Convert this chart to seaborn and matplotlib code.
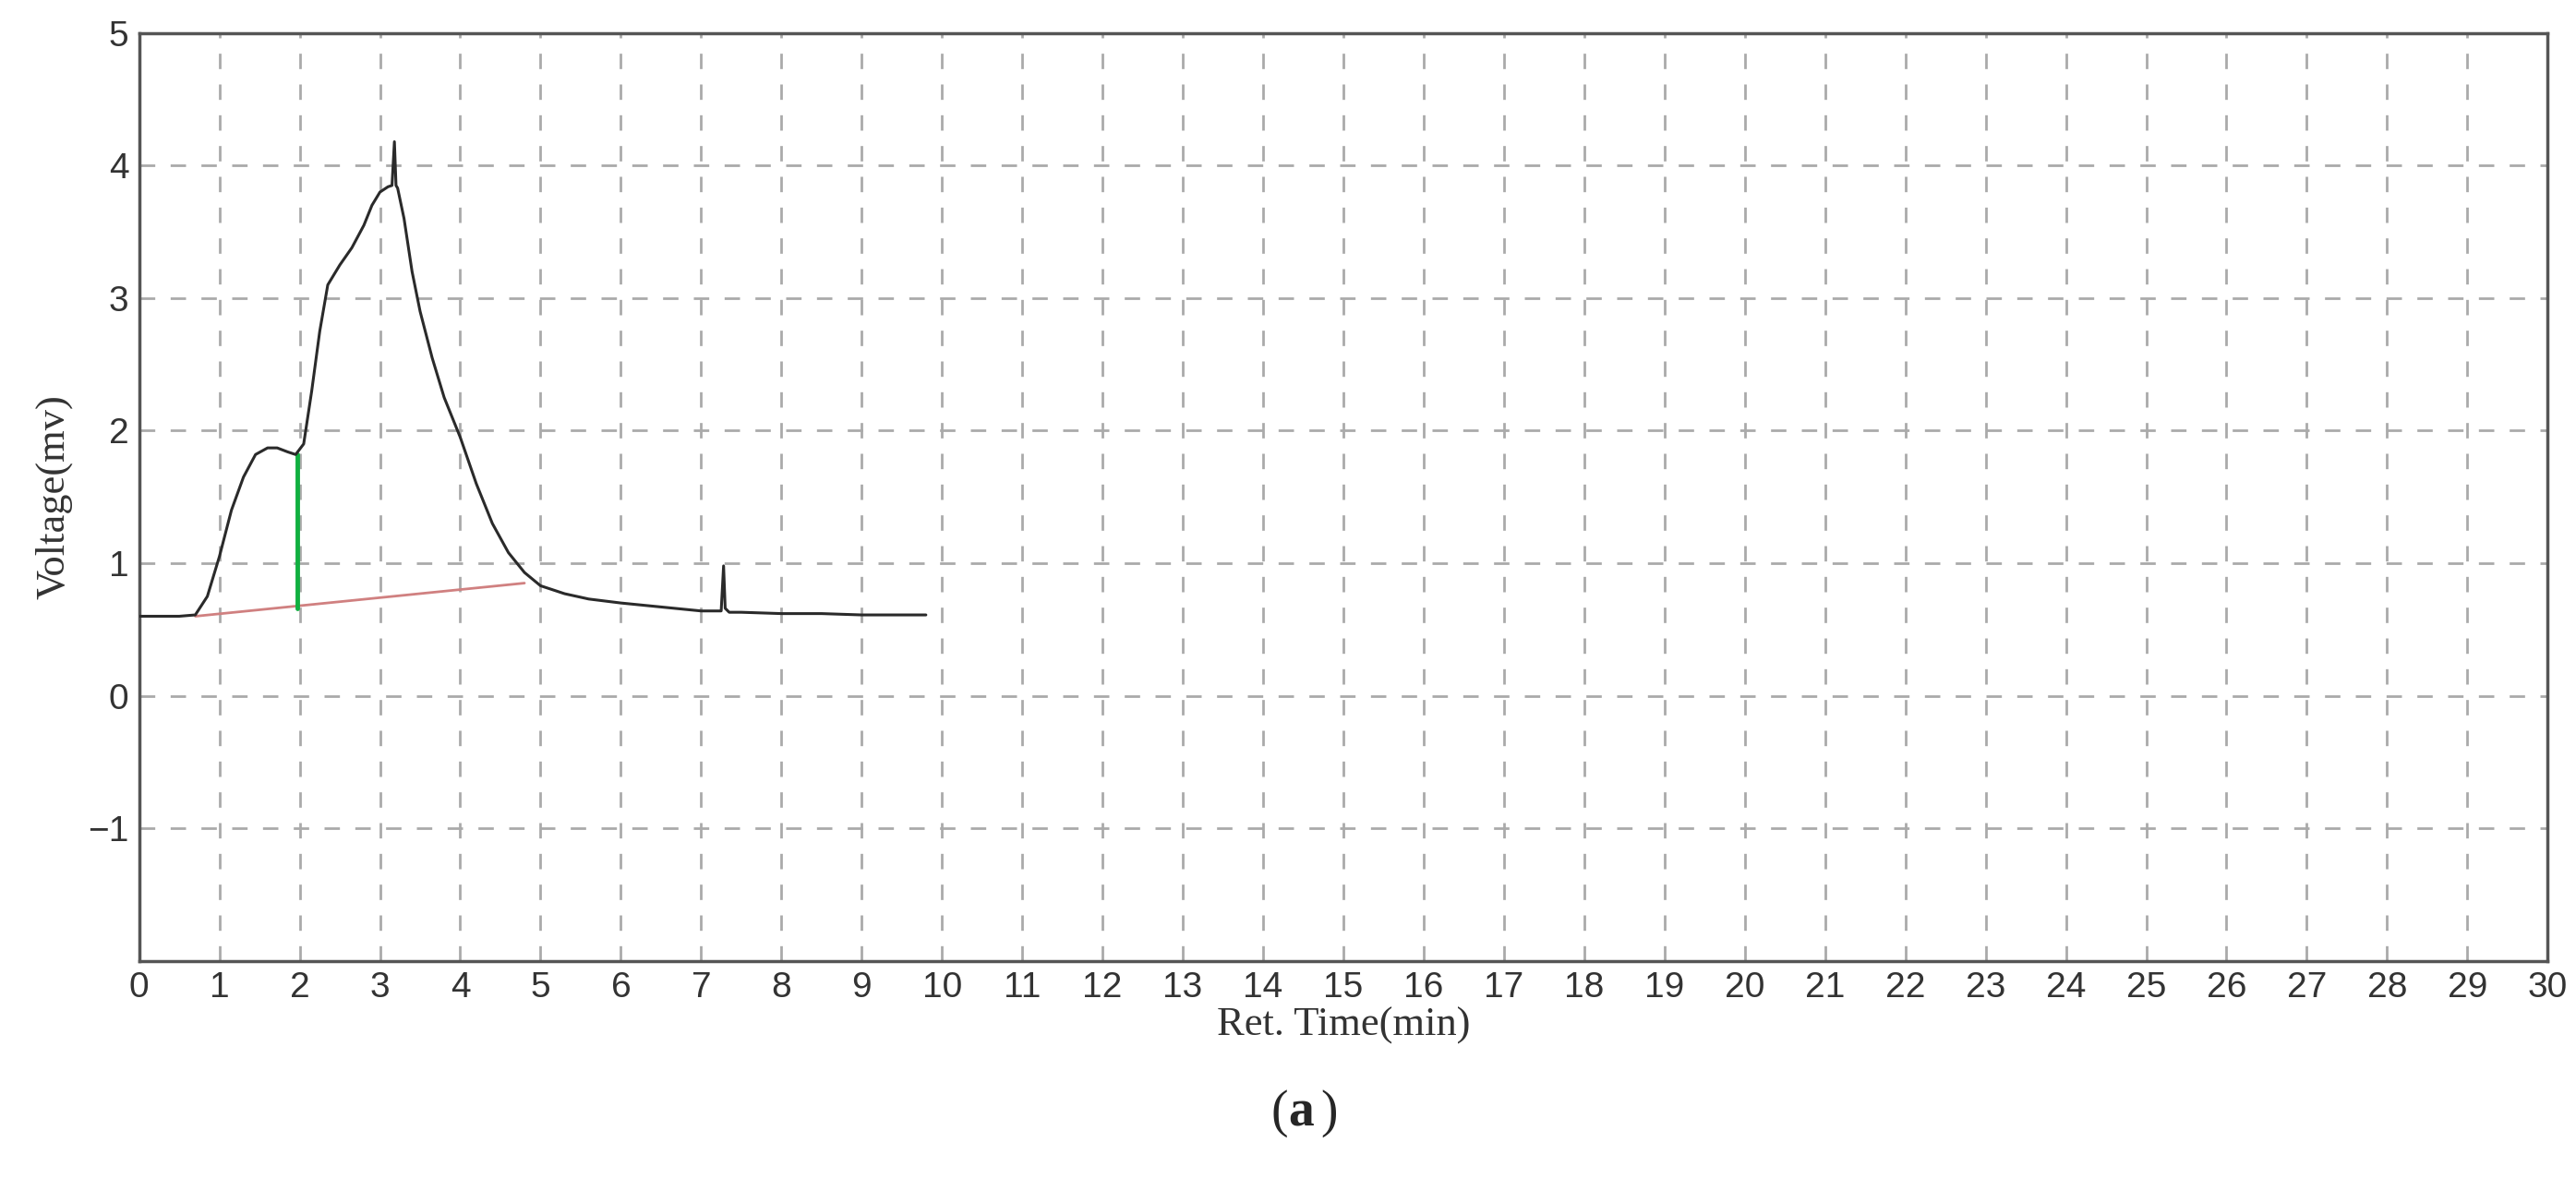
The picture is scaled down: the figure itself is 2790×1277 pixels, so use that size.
import matplotlib
matplotlib.use("Agg")
import matplotlib.pyplot as plt
import seaborn as sns
import pandas as pd

sns.set_theme(style="white")

time = [0.0, 0.5, 0.7, 0.85, 1.0, 1.15, 1.3, 1.45, 1.6, 1.72, 1.85, 1.95, 2.05, 2.15, 2.25, 2.35, 2.5, 2.65, 2.8, 2.9, 3.0, 3.1, 3.15, 3.18, 3.2, 3.22, 3.3,
        3.4, 3.5, 3.65, 3.8, 4.0, 4.2, 4.4, 4.6, 4.8, 5.0, 5.3, 5.6, 6.0, 6.5, 7.0, 7.25, 7.28, 7.3, 7.35, 7.5, 8.0, 8.5, 9.0, 9.8]
voltage = [0.6, 0.6, 0.61, 0.75, 1.05, 1.4, 1.65, 1.82, 1.87, 1.87, 1.84, 1.82, 1.9, 2.3, 2.75, 3.1, 3.25, 3.38, 3.55, 3.7, 3.8, 3.84, 3.85, 4.18, 3.85, 3.83, 3.6,
           3.2, 2.9, 2.55, 2.25, 1.95, 1.6, 1.3, 1.08, 0.93, 0.83, 0.77, 0.73, 0.7, 0.67, 0.64, 0.64, 0.98, 0.66, 0.63, 0.63, 0.62, 0.62, 0.61, 0.61]
base_t = [0.7, 4.8]
base_v = [0.6, 0.85]
split_t = [1.97, 1.97]
split_v = [0.66, 1.82]

fig = plt.figure(figsize=(27.9, 12.77), dpi=100)
ax = fig.add_axes([0.054, 0.185, 0.935, 0.787])

df = pd.DataFrame({"t": time, "v": voltage})
sns.lineplot(data=df, x="t", y="v", ax=ax, color="#2a2a2a", linewidth=2.2, zorder=5)
sns.lineplot(x=base_t, y=base_v, ax=ax, color="#d08080", linewidth=2, zorder=4)
sns.lineplot(x=split_t, y=split_v, ax=ax, color="#10b040", linewidth=3.5, zorder=4, orient="y")

ax.set_xlim(0, 30)
ax.set_ylim(-2, 5)
ax.set_xticks(range(0, 31))
ax.set_yticks([-1, 0, 1, 2, 3, 4, 5])
ax.grid(True, color="#aaaaaa", linestyle=(0, (6, 6)), linewidth=2)
for s in ax.spines.values():
    s.set_color("#555555")
    s.set_linewidth(2.5)
ax.tick_params(labelsize=28, length=0, pad=8)
for lab in ax.get_xticklabels() + ax.get_yticklabels():
    lab.set_family("Liberation Sans")
    lab.set_color("#333333")
ax.set_xlabel("Ret. Time(min)", fontsize=32, family="Liberation Serif", color="#333333", labelpad=2)
ax.set_ylabel("Voltage(mv)", fontsize=32, family="Liberation Serif", color="#333333", labelpad=12)

fig.text(0.5, 0.045, "(", fontsize=40, ha="right", family="Liberation Serif")
fig.text(0.5, 0.045, "a", fontsize=40, ha="left", family="Liberation Serif", weight="bold")
fig.text(0.5125, 0.045, ")", fontsize=40, ha="left", family="Liberation Serif")

fig.savefig("out.png", dpi=100, facecolor="white")
